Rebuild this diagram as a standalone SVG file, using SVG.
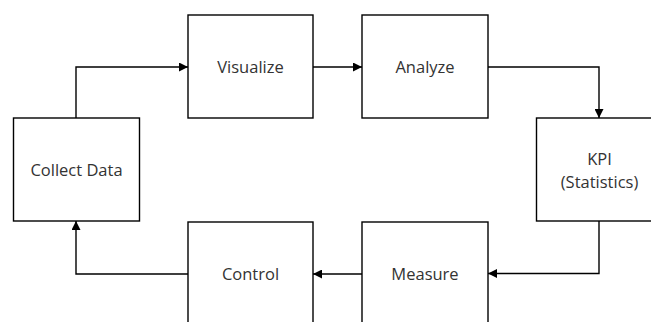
<svg xmlns="http://www.w3.org/2000/svg" width="651" height="322" viewBox="0 0 651 322">
  <defs>
    <marker id="arrow" viewBox="0 0 10 10" refX="10" refY="5" markerWidth="10" markerHeight="9" markerUnits="userSpaceOnUse" orient="auto">
      <path d="M0,0 L10,5 L0,10 z" fill="#000"/>
    </marker>
  </defs>
  <style>
    .box { fill: #fff; stroke: #000; stroke-width: 1.4; }
    .label { font-family: "Open Sans", "Noto Sans", sans-serif; font-size: 16.5px; fill: #333; text-anchor: middle; }
    .edge { fill: none; stroke: #000; stroke-width: 1.4; marker-end: url(#arrow); }
  </style>
  <rect width="651" height="322" fill="#fff"/>

  <g id="connectors">
    <path class="edge" d="M76,118 V67 H188"/>
    <path class="edge" d="M313,67 H362"/>
    <path class="edge" d="M488,67 H599 V118"/>
    <path class="edge" d="M599,221 V273.5 H488"/>
    <path class="edge" d="M362,274 H313"/>
    <path class="edge" d="M188,274 H76 V221"/>
  </g>

  <g id="collect-data">
    <rect class="box" x="13.5" y="118" width="126" height="103"/>
    <text class="label" x="76.5" y="176">Collect Data</text>
  </g>
  <g id="visualize">
    <rect class="box" x="188" y="15" width="125" height="103"/>
    <text class="label" x="250.5" y="73">Visualize</text>
  </g>
  <g id="analyze">
    <rect class="box" x="362" y="15" width="126" height="103"/>
    <text class="label" x="425" y="73">Analyze</text>
  </g>
  <g id="kpi">
    <rect class="box" x="536.5" y="118" width="126" height="103"/>
    <text class="label" x="599.5" y="164.5">KPI</text>
    <text class="label" x="599.5" y="187.5">(Statistics)</text>
  </g>
  <g id="measure">
    <rect class="box" x="362" y="222" width="126" height="110"/>
    <text class="label" x="425" y="280">Measure</text>
  </g>
  <g id="control">
    <rect class="box" x="188" y="222" width="125" height="110"/>
    <text class="label" x="250.5" y="280">Control</text>
  </g>
</svg>
